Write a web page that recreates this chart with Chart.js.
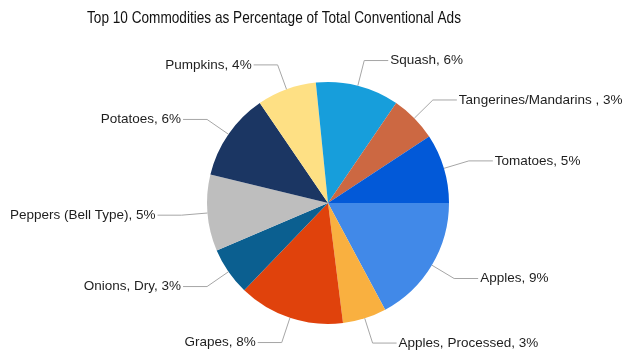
<!DOCTYPE html>
<html>
<head>
<meta charset="utf-8">
<script src="https://cdn.jsdelivr.net/npm/chart.js@4/dist/chart.umd.min.js"></script>
<style>
html,body{margin:0;padding:0;background:#fff;}
#wrap{width:626px;height:355px;position:relative;}
</style>
</head>
<body>
<div id="wrap"><canvas id="c"></canvas></div>
<script>
const titleText = "Top 10 Commodities as Percentage of Total Conventional Ads";
const categories = ["Apples", "Apples, Processed", "Grapes", "Onions, Dry", "Peppers (Bell Type)", "Potatoes", "Pumpkins", "Squash", "Tangerines/Mandarins ", "Tomatoes"];
const shares = [9.1, 3.1, 7.5, 3.4, 5.4, 6.2, 4.2, 5.9, 3.3, 4.9];
const sliceColors = ["#4189E8", "#F9B040", "#E0420C", "#0B5F90", "#BEBEBE", "#1B3663", "#FEE084", "#179EDB", "#CC6842", "#0259D8"];

const FONT = "'Liberation Sans', Arial, sans-serif";

const outsideLabels = {
  id: 'outsideLabels',
  afterDatasetsDraw(chart) {
    const ctx = chart.ctx;
    const meta = chart.getDatasetMeta(0);
    ctx.save();
    meta.data.forEach((arc, i) => {
      const p = arc.getProps(['x','y','startAngle','endAngle','outerRadius'], true);
      const mid = (p.startAngle + p.endAngle) / 2;
      const cos = Math.cos(mid), sin = Math.sin(mid);
      const x0 = p.x + cos * p.outerRadius, y0 = p.y + sin * p.outerRadius;
      const r1 = p.outerRadius + 26;
      const x1 = p.x + cos * r1, y1 = p.y + sin * r1;
      const right = cos >= 0;
      const x2 = x1 + (right ? 24 : -24);
      ctx.strokeStyle = '#A6A6A6';
      ctx.lineWidth = 1;
      ctx.beginPath();
      ctx.moveTo(x0, y0);
      ctx.lineTo(x1, y1);
      ctx.lineTo(x2, y1);
      ctx.stroke();
      ctx.fillStyle = '#1E1E1E';
      ctx.font = '13.5px ' + FONT;
      ctx.textBaseline = 'middle';
      ctx.textAlign = right ? 'left' : 'right';
      const txt = categories[i] + ', ' + Math.round(shares[i]) + '%';
      ctx.fillText(txt, x2 + (right ? 2 : -2), y1);
    });
    // title: condensed face, emulated by horizontal scaling
    ctx.fillStyle = '#111';
    ctx.font = '17px ' + FONT;
    ctx.textAlign = 'center';
    ctx.textBaseline = 'middle';
    const w = ctx.measureText(titleText).width;
    const sx = 374 / w;
    ctx.translate(274, 18);
    ctx.scale(sx, 1);
    ctx.fillText(titleText, 0, 0);
    ctx.restore();
  }
};

new Chart(document.getElementById('c'), {
  type: 'pie',
  data: {
    labels: categories,
    datasets: [{
      data: shares,
      backgroundColor: sliceColors,
      borderWidth: 0
    }]
  },
  options: {
    responsive: true,
    maintainAspectRatio: false,
    animation: false,
    rotation: 90,
    layout: { padding: { top: 82, bottom: 31, left: 100, right: 70 } },
    plugins: {
      legend: { display: false },
      tooltip: { enabled: false },
      title: { display: false }
    }
  },
  plugins: [outsideLabels]
});
</script>
</body>
</html>
